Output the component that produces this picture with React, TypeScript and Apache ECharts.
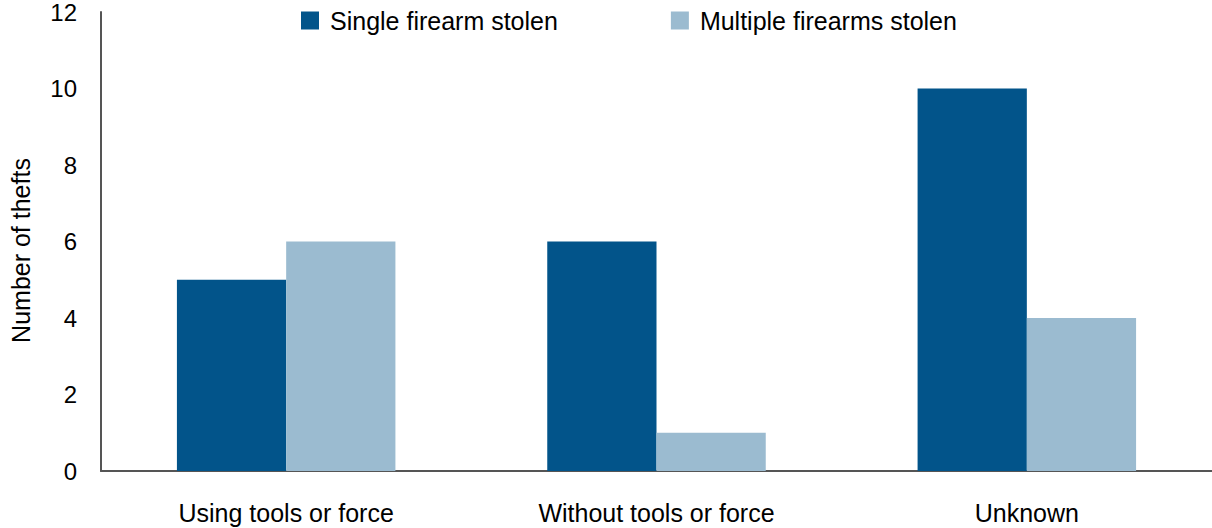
import React, { useEffect, useRef } from "react";
import * as echarts from "echarts";

const categories = ["Using tools or force", "Without tools or force", "Unknown"];
const singleStolen = [5, 6, 10];
const multipleStolen = [6, 1, 4];
const seriesNames = ["Single firearm stolen", "Multiple firearms stolen"];

const FONT = "'Liberation Sans', Arial, sans-serif";

export default function App() {
  const ref = useRef<HTMLDivElement>(null);

  useEffect(() => {
    if (!ref.current) return;
    const chart = echarts.init(ref.current, null, { renderer: "svg" });
    chart.setOption({
      animation: false,
      textStyle: { fontFamily: FONT },
      grid: { left: 97, right: 0, top: 12, bottom: 57, containLabel: false },
      legend: {
        top: 8,
        left: 301,
        padding: 0,
        itemWidth: 18,
        itemHeight: 18,
        itemGap: 113,
        icon: "rect",
        textStyle: { fontSize: 25, color: "#000", fontFamily: FONT, padding: [0, 0, 0, 6] },
        data: seriesNames,
      },
      xAxis: {
        type: "category",
        data: categories,
        axisLine: { show: true, lineStyle: { color: "#555", width: 2 } },
        axisTick: { show: false },
        axisLabel: { color: "#000", fontSize: 25, margin: 29, fontFamily: FONT },
      },
      yAxis: {
        type: "value",
        min: 0,
        max: 12,
        interval: 2,
        name: "Number of thefts",
        nameLocation: "middle",
        nameGap: 68,
        nameTextStyle: { color: "#000", fontSize: 25, fontFamily: FONT, padding: [0, 18, 0, 0] },
        axisLine: { show: true, lineStyle: { color: "#555", width: 2 } },
        axisTick: { show: false },
        splitLine: { show: false },
        axisLabel: { color: "#000", fontSize: 24, margin: 24, fontFamily: FONT },
      },
      series: [
        {
          name: seriesNames[0],
          type: "bar",
          data: singleStolen,
          itemStyle: { color: "#02548A" },
          barGap: "0%",
          barCategoryGap: "41%",
        },
        {
          name: seriesNames[1],
          type: "bar",
          data: multipleStolen,
          itemStyle: { color: "#9BBBD0" },
        },
      ],
    });
    return () => chart.dispose();
  }, []);

  return (
    <div
      ref={ref}
      style={{ position: "fixed", left: 0, top: 0, width: 1212, height: 528, background: "#fff" }}
    />
  );
}
